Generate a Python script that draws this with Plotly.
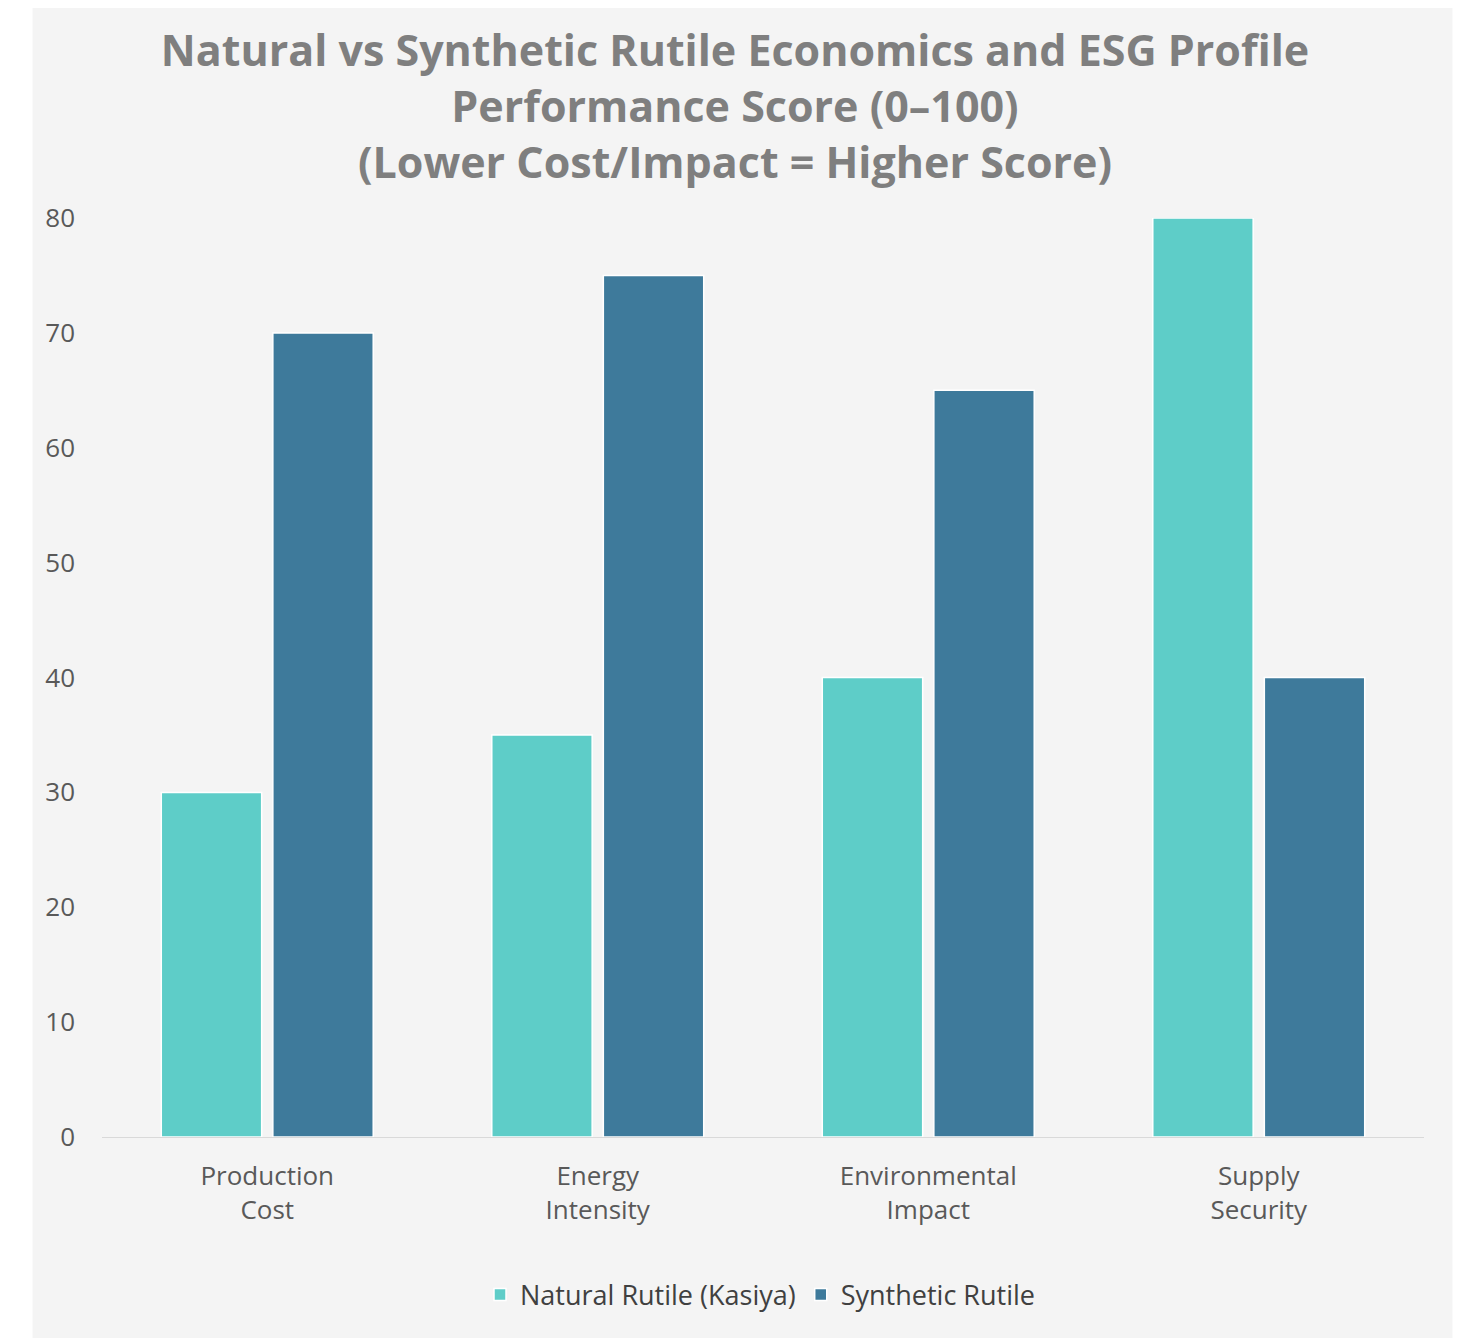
import plotly.graph_objects as go

categories = ["Production<br>Cost", "Energy<br>Intensity", "Environmental<br>Impact", "Supply<br>Security"]
natural_rutile = [30, 35, 40, 80]
synthetic_rutile = [70, 75, 65, 40]
y_ticks = [0, 10, 20, 30, 40, 50, 60, 70, 80]

FONT = "Open Sans, sans-serif"
W, H = 1468, 1338
OFF = 8  # page body margin
ml, mt = 101.5 - OFF, 218 - OFF
plot_right, plot_bottom = 1424.5 - OFF, 1137 - OFF
mr, mb = W - plot_right, H - plot_bottom
pw = plot_right - ml
ph = plot_bottom - mt

fig = go.Figure()
fig.add_trace(go.Bar(name="Natural Rutile (Kasiya)", x=categories, y=natural_rutile,
                     marker=dict(color="#5ecdc8", line=dict(color="#ffffff", width=1.5))))
fig.add_trace(go.Bar(name="Synthetic Rutile", x=categories, y=synthetic_rutile,
                     marker=dict(color="#3e7a9b", line=dict(color="#ffffff", width=1.5))))

fig.add_shape(type="rect", xref="paper", yref="paper", layer="below",
              x0=(32 - OFF - ml) / pw, x1=(1453 - OFF - ml) / pw,
              y0=-(mb + 20) / ph, y1=(plot_bottom + 20) / ph,
              fillcolor="#f4f4f4", line=dict(width=0))

fig.update_layout(
    width=W, height=H,
    margin=dict(l=ml, r=mr, t=mt, b=mb, pad=0),
    paper_bgcolor="#ffffff", plot_bgcolor="rgba(0,0,0,0)",
    font=dict(family=FONT, color="#595959"),
    title=dict(text="Natural vs Synthetic Rutile Economics and ESG Profile<br>Performance Score (0–100)<br>(Lower Cost/Impact = Higher Score)",
               x=(735 - OFF) / W, xref="container", xanchor="center", y=1 - 58 / H, yanchor="top",
               font=dict(size=43, color="#7f7f7f", family=FONT, weight="bold")),
    barmode="group", bargap=0.325, bargroupgap=0.1,
    showlegend=True,
    legend=dict(orientation="h", x=(760 - OFF - ml) / pw, xanchor="center",
                y=-(1295 - 1137) / ph, yanchor="middle",
                font=dict(size=27, color="#404040"), bgcolor="rgba(0,0,0,0)"),
    hovermode=False,
)
fig.update_xaxes(showgrid=False, showline=True, linecolor="#d9d9d9", linewidth=1,
                 ticks="", ticklabelstandoff=16, tickfont=dict(size=26, color="#595959"))
fig.update_yaxes(range=[0, 80], tickvals=y_ticks, showgrid=False, zeroline=False,
                 showline=False, ticks="", ticklabelstandoff=26,
                 tickfont=dict(size=26, color="#595959"))

fig.write_html("out.html")
